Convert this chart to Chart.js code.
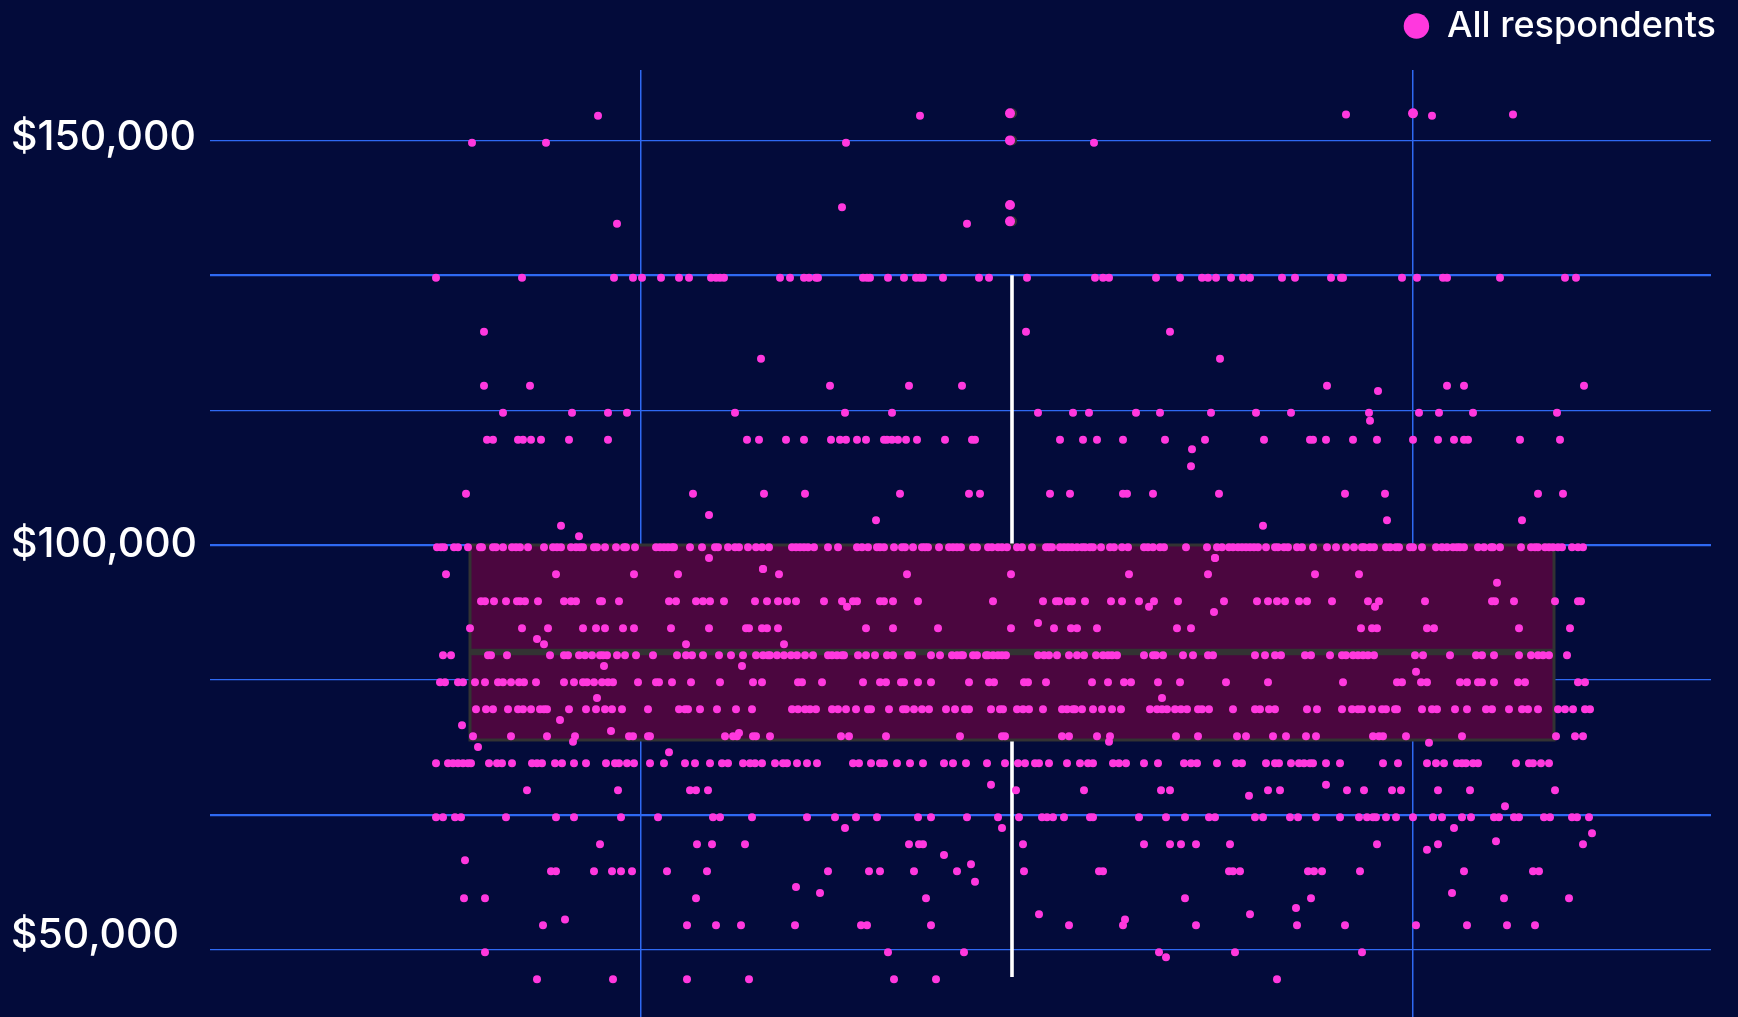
<!DOCTYPE html>
<html>
<head>
<meta charset="utf-8">
<title>All respondents</title>
<script src="https://cdn.jsdelivr.net/npm/chart.js@4"></script>
<style>
  html, body { margin: 0; background: #030b3a; }
  canvas { display: block; }
</style>
</head>
<body>
<canvas id="myChart" width="1738" height="1017"></canvas>
<script>
// x is a meaningless jitter, only there to spread respondents sideways
var gridSalaries = [50000, 66667, 83333, 100000, 116667, 133333, 150000];
var thickGrid = [66667, 100000, 133333];
var gridJitter = [641, 1412.5];
var tickSalaries = [51700, 100100, 150370];
var tickLabels = ["$50,000", "$100,000", "$150,000"];

var salaryRows = [149720, 133040, 126360, 123030, 119690, 116350, 113020, 106340, 103050,
	99720, 96380, 93040, 89700, 86370, 83030, 79690, 76360, 73020, 69680, 66340, 63010,
	59670, 56330, 53000, 49660, 46320];

var jitter149720 = [472, 546, 846, 1094];
var jitter133040 = [436, 522, 614, 633, 642, 661, 679, 689, 711, 716, 720, 724, 780, 790, 804, 809, 816, 818, 863, 867,
	870, 888, 904, 916, 920, 923, 943, 979, 989, 1027, 1095, 1103, 1109, 1156, 1180, 1202, 1208, 1216, 1231, 1243, 1250,
	1282, 1295, 1331, 1341, 1343, 1402, 1417, 1443, 1447, 1500, 1565, 1576];
var jitter126360 = [484, 1026, 1170];
var jitter123030 = [761, 1220];
var jitter119690 = [484, 530, 830, 909, 962, 1327, 1447, 1464, 1584];
var jitter116350 = [503, 572, 608, 627, 735, 845, 892, 1038, 1073, 1089, 1136, 1160, 1211, 1256, 1291, 1369, 1419, 1439, 1473, 1557];
var jitter113020 = [487, 493, 518, 523, 531, 541, 569, 608, 747, 759, 786, 804, 831, 840, 846, 857, 866, 884, 887, 892, 898, 906, 917,
	945, 972, 975, 1060, 1083, 1097, 1123, 1165, 1205, 1264, 1310, 1313, 1326, 1353, 1377, 1413, 1438, 1454, 1464, 1468, 1520, 1560];
var jitter106340 = [466, 693, 764, 805, 900, 969, 980, 1050, 1070, 1123, 1127, 1153, 1219, 1345, 1385, 1538, 1563];
var jitter103050 = [876, 1387, 1522];
var jitter99720 = [437, 441, 444, 454, 458, 468, 480, 482, 493, 496, 503, 512, 516, 520, 528, 544, 553, 557, 561, 571, 576, 580, 583,
	594, 597, 605, 616, 624, 626, 635, 656, 660, 664, 668, 672, 674, 690, 702, 715, 718, 728, 735, 739, 748, 756, 762, 769,
	792, 796, 800, 804, 808, 814, 828, 838, 857, 862, 868, 877, 880, 884, 894, 902, 905, 913, 922, 925, 928, 939, 949, 953, 957, 961,
	973, 977, 988, 992, 998, 1002, 1007, 1017, 1022, 1032, 1046, 1049, 1052, 1060, 1064, 1068, 1072, 1077, 1082, 1085, 1090, 1093, 1101,
	1110, 1114, 1122, 1128, 1144, 1148, 1153, 1160, 1164, 1186, 1207, 1217, 1222, 1229, 1233, 1238, 1242, 1246, 1250, 1254, 1258, 1266,
	1275, 1278, 1284, 1288, 1297, 1302, 1313, 1327, 1336, 1346, 1354, 1362, 1364, 1370, 1374, 1386, 1390, 1396, 1399, 1410, 1413, 1422,
	1436, 1442, 1447, 1453, 1457, 1460, 1464, 1478, 1484, 1491, 1493, 1500, 1521, 1531, 1535, 1538, 1545, 1549, 1553, 1558, 1562, 1572, 1578, 1583];
var jitter96380 = [446, 556, 634, 678, 779, 907, 1011, 1129, 1208, 1315, 1359];
var jitter93040 = [481, 485, 494, 506, 517, 520, 525, 538, 564, 571, 576, 600, 602, 619, 669, 676, 696, 703, 710, 724, 755, 767, 778, 787, 796, 824,
	842, 853, 857, 880, 884, 893, 918, 993, 1043, 1056, 1059, 1068, 1072, 1085, 1111, 1122, 1139, 1154, 1178, 1224, 1257, 1268, 1277, 1285,
	1299, 1307, 1332, 1368, 1379, 1425, 1492, 1495, 1514, 1555, 1578, 1581];
var jitter89700 = [470, 522, 548, 583, 596, 605, 623, 634, 671, 709, 746, 749, 762, 767, 778, 866, 893, 938, 1011, 1054, 1071, 1077, 1097,
	1177, 1191, 1361, 1372, 1377, 1427, 1434, 1519, 1570];
var jitter86370 = [443, 451, 488, 491, 507, 550, 564, 568, 579, 585, 592, 600, 603, 607, 617, 625, 636, 653, 677, 686, 692, 703, 719, 731, 743,
	756, 763, 768, 770, 777, 784, 791, 797, 805, 813, 828, 832, 837, 842, 844, 858, 866, 875, 887, 893, 908, 912, 931, 940, 952, 957, 961, 963,
	973, 977, 986, 988, 993, 998, 1002, 1006, 1038, 1044, 1049, 1057, 1069, 1077, 1084, 1096, 1103, 1108, 1112, 1117, 1144, 1153, 1156, 1163,
	1183, 1193, 1208, 1213, 1255, 1265, 1275, 1281, 1305, 1311, 1330, 1342, 1346, 1353, 1358, 1363, 1368, 1374, 1415, 1423, 1450, 1476, 1482,
	1494, 1519, 1531, 1538, 1543, 1549, 1567];
var jitter83030 = [440, 445, 458, 463, 475, 485, 498, 503, 511, 519, 524, 536, 564, 574, 583, 587, 594, 602, 608, 613, 638, 656, 659, 672, 691,
	720, 753, 762, 798, 802, 822, 863, 880, 886, 901, 904, 918, 931, 969, 989, 994, 1024, 1028, 1046, 1092, 1108, 1124, 1131, 1158, 1180, 1226,
	1268, 1343, 1397, 1402, 1421, 1427, 1460, 1467, 1478, 1482, 1494, 1518, 1525, 1578, 1585];
var jitter79690 = [476, 486, 493, 508, 518, 523, 531, 540, 544, 547, 569, 586, 596, 605, 612, 622, 648, 679, 685, 688, 700, 717, 736, 752,
	792, 798, 805, 810, 816, 832, 838, 846, 856, 868, 871, 889, 903, 906, 914, 922, 929, 946, 955, 965, 969, 991, 1000, 1003, 1017, 1023, 1029, 1043,
	1062, 1067, 1073, 1075, 1082, 1093, 1102, 1112, 1121, 1150, 1157, 1162, 1167, 1175, 1181, 1187, 1198, 1202, 1209, 1233, 1255, 1260, 1269, 1275,
	1307, 1317, 1342, 1352, 1358, 1362, 1372, 1382, 1386, 1395, 1397, 1422, 1432, 1437, 1455, 1467, 1486, 1492, 1509, 1522, 1528, 1538, 1558, 1565, 1573, 1585, 1590];
var jitter76360 = [473, 511, 547, 575, 629, 633, 648, 650, 725, 733, 737, 753, 756, 770, 841, 849, 886, 960, 1002, 1005, 1062, 1069, 1097, 1110,
	1176, 1198, 1237, 1246, 1273, 1286, 1306, 1316, 1373, 1379, 1383, 1406, 1462, 1556, 1575, 1583];
var jitter73020 = [436, 448, 453, 458, 463, 468, 471, 489, 497, 502, 512, 532, 537, 542, 555, 562, 574, 586, 606, 615, 619, 627, 634, 650, 664,
	685, 695, 710, 722, 728, 743, 750, 755, 762, 775, 783, 787, 797, 807, 817, 853, 859, 871, 880, 884, 897, 910, 923, 944, 953, 966, 987, 1005, 1018, 1025,
	1035, 1039, 1049, 1067, 1080, 1088, 1093, 1113, 1119, 1126, 1144, 1158, 1184, 1191, 1197, 1217, 1236, 1242, 1266, 1275, 1279, 1291, 1299, 1304, 1310, 1313,
	1326, 1340, 1383, 1398, 1427, 1436, 1444, 1457, 1462, 1466, 1473, 1478, 1516, 1529, 1533, 1541, 1549];
var jitter69680 = [527, 618, 690, 696, 708, 1016, 1084, 1161, 1170, 1268, 1280, 1347, 1364, 1392, 1401, 1438, 1470, 1555];
var jitter66340 = [436, 443, 455, 461, 506, 556, 574, 621, 658, 713, 720, 752, 807, 835, 856, 877, 918, 931, 967, 998, 1019, 1042, 1047, 1053, 1064,
	1090, 1093, 1139, 1166, 1185, 1209, 1215, 1255, 1263, 1290, 1298, 1316, 1340, 1359, 1367, 1373, 1376, 1386, 1396, 1413, 1433, 1442, 1462, 1471, 1494, 1499,
	1514, 1519, 1544, 1550, 1572, 1577, 1589];
var jitter63010 = [600, 697, 712, 745, 909, 919, 923, 1023, 1144, 1170, 1181, 1196, 1230, 1377, 1438, 1583];
var jitter59670 = [551, 556, 594, 612, 621, 632, 667, 707, 828, 869, 880, 914, 957, 1024, 1099, 1103, 1229, 1233, 1240, 1308, 1314, 1322, 1360, 1464, 1533, 1539];
var jitter56330 = [464, 485, 696, 926, 1185, 1311, 1504, 1569];
var jitter53000 = [543, 687, 716, 741, 795, 861, 867, 931, 1069, 1123, 1196, 1297, 1345, 1416, 1467, 1507, 1535];
var jitter49660 = [485, 888, 964, 1159, 1235, 1362];
var jitter46320 = [537, 613, 687, 749, 894, 936, 1277];

// respondents that sit off the rows
var strayJitter = [920, 598, 1432, 1346, 1513, 967, 617, 842, 1378, 1370, 1192, 1191, 561, 579, 709, 763, 1215, 1263, 709, 1215, 763, 1497,
	847, 1149, 1375, 1214, 1038, 537, 544, 686, 784, 604, 742, 1416, 597, 1162, 560, 462, 611, 739, 573, 1109, 1429, 478, 669, 991, 1326, 1249,
	1505, 845, 1002, 1454, 1592, 1496, 1427, 944, 465, 971, 975, 796, 820, 1452, 1296, 1039, 1250, 565, 1125, 1166];
var straySalary = [153060, 153060, 153060, 153230, 153230, 139710, 139710, 141740, 119030, 115360, 111830, 109730, 102390, 101080, 103710, 97030, 98390, 102390, 98390, 98390, 97030, 95340,
	92370, 92370, 92370, 91720, 90360, 88380, 87730, 87730, 87730, 85040, 85040, 84340, 81090, 81090, 78370, 77720, 77010, 76760, 75690, 75690, 75560, 75030, 74380, 70370, 70370, 69010,
	67700, 65020, 65020, 65020, 64370, 63380, 62340, 61680, 61030, 60530, 58380, 57730, 56990, 56990, 55130, 54350, 54350, 53690, 53690, 49040];

// the bigger dots at the very top
var bigJitter = [1010, 1010, 1010, 1010, 1413];
var bigSalary = [153360, 150020, 142020, 140010, 153360];
var rimJitter = [1012, 1012, 1012];
var rimSalary = [153360, 150020, 140010];

var boxLeft = 470;
var boxRight = 1554;
var boxCenter = 1012;
var whiskerHigh = 133333;
var q3 = 100000;
var median = 86780;
var q1 = 75900;
var whiskerLow = 46600;

var jitterRows = [jitter149720, jitter133040, jitter126360, jitter123030, jitter119690, jitter116350, jitter113020, jitter106340, jitter103050,
	jitter99720, jitter96380, jitter93040, jitter89700, jitter86370, jitter83030, jitter79690, jitter76360, jitter73020, jitter69680, jitter66340, jitter63010,
	jitter59670, jitter56330, jitter53000, jitter49660, jitter46320];

var respondents = [];
jitterRows.forEach(function (row, i) {
	row.forEach(function (x) {
		respondents.push({x: x, y: salaryRows[i]});
	});
});
strayJitter.forEach(function (x, i) {
	respondents.push({x: x, y: straySalary[i]});
});

function zipPoints(xs, ys) {
	return xs.map(function (x, i) { return {x: x, y: ys[i]}; });
}

var pink = '#ff38de';
var boxLine = '#333333';
var gridBlue = '#2f69f2';

function boxLineDataset(label, points, color, width, order) {
	return {label: label, data: points, showLine: true, borderColor: color, backgroundColor: color,
		borderWidth: width, pointRadius: 0, order: order, borderJoinStyle: 'miter', borderCapStyle: 'butt'};
}

var boxFill = boxLineDataset('box fill', [{x: boxLeft, y: q3}, {x: boxRight, y: q3}], 'rgba(0,0,0,0)', 0, 6);
boxFill.fill = {target: {value: q1}, above: '#4b063f', below: '#4b063f'};

var datasets = [
	{label: 'All respondents', data: respondents, backgroundColor: pink, borderColor: pink,
		pointRadius: 4, pointBorderWidth: 0, order: 0},
	{label: 'big', data: zipPoints(bigJitter, bigSalary), backgroundColor: pink, pointRadius: 5, pointBorderWidth: 0, order: 1},
	{label: 'rim', data: zipPoints(rimJitter, rimSalary), backgroundColor: boxLine, pointRadius: 5, pointBorderWidth: 0, order: 2},
	boxLineDataset('median', [{x: boxLeft, y: median}, {x: boxRight, y: median}], boxLine, 6.5, 3),
	boxLineDataset('box', [{x: boxLeft, y: q3}, {x: boxRight, y: q3}, {x: boxRight, y: q1}, {x: boxLeft, y: q1}, {x: boxLeft, y: q3}], boxLine, 3, 4),
	boxFill,
	boxLineDataset('upper whisker', [{x: boxCenter, y: whiskerHigh}, {x: boxCenter, y: q3}], '#ffffff', 3.6, 7),
	boxLineDataset('lower whisker', [{x: boxCenter, y: q1}, {x: boxCenter, y: whiskerLow}], '#ffffff', 3.6, 7)
];

// legend sits high up, leave the gap under it
var legendGap = {
	id: 'legendGap',
	beforeInit: function (chart) {
		var fit = chart.legend.fit;
		chart.legend.fit = function () {
			fit.call(this);
			this.height = 70;
		};
	}
};

var ctx = document.getElementById('myChart');

new Chart(ctx, {
	type: 'scatter',
	data: {datasets: datasets},
	plugins: [legendGap],
	options: {
		responsive: false,
		animation: false,
		layout: {autoPadding: false, padding: {left: 11, right: 14, top: 0, bottom: 0}},
		plugins: {
			tooltip: {enabled: false},
			legend: {
				position: 'top',
				align: 'end',
				labels: {
					color: '#ffffff',
					font: {family: 'Inter', size: 36, weight: '500'},
					usePointStyle: true,
					boxWidth: 25,
					boxHeight: 18,
					padding: 8,
					filter: function (item) { return item.datasetIndex === 0; }
				}
			}
		},
		scales: {
			x: {
				type: 'linear',
				min: 210,
				max: 1711,
				border: {display: false},
				grid: {color: gridBlue, lineWidth: 1.5, drawTicks: false},
				ticks: {display: false},
				afterBuildTicks: function (scale) {
					scale.ticks = gridJitter.map(function (v) { return {value: v}; });
				},
				afterFit: function (scale) {
					scale.height = 0;
					scale.paddingRight = 27;
				}
			},
			y: {
				type: 'linear',
				min: 41650,
				max: 158720,
				border: {display: false},
				afterFit: function (scale) {
					scale.width = 199;
					scale.paddingTop = 0;
					scale.paddingBottom = 0;
				},
				afterBuildTicks: function (scale) {
					scale.ticks = gridSalaries.concat(tickSalaries).sort(function (a, b) { return a - b; })
						.map(function (v) { return {value: v}; });
				},
				grid: {
					drawTicks: false,
					color: function (c) {
						return gridSalaries.indexOf(c.tick.value) >= 0 ? gridBlue : 'rgba(0,0,0,0)';
					},
					lineWidth: function (c) {
						return thickGrid.indexOf(c.tick.value) >= 0 ? 2.2 : 1.2;
					}
				},
				ticks: {
					autoSkip: false,
					crossAlign: 'far',
					padding: 0,
					color: '#ffffff',
					font: {family: 'Inter', size: 41, weight: '500'},
					callback: function (value) {
						var i = tickSalaries.indexOf(value);
						return i >= 0 ? tickLabels[i] : '';
					}
				}
			}
		}
	}
});
</script>
</body>
</html>
